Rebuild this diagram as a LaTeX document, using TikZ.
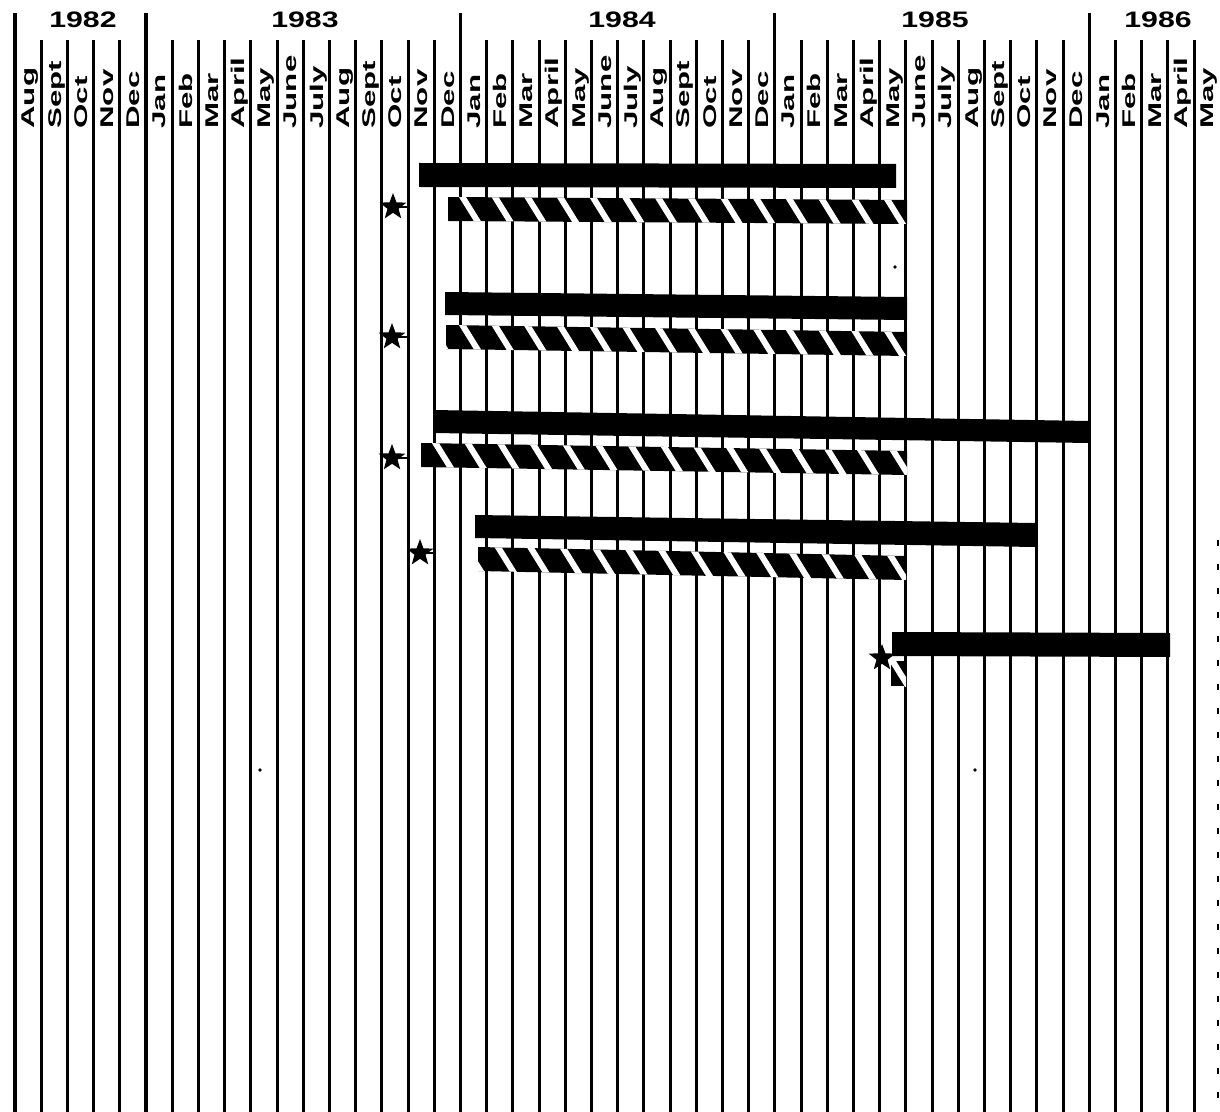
\documentclass[tikz,border=0pt]{standalone}
\usepackage{fontspec}
\setmainfont{Liberation Sans}
\usetikzlibrary{shapes.geometric}
\newcommand\MLab[1]{\scalebox{1.7}[1]{#1}}
\newcommand\YLab[1]{\scalebox{1.35}[1]{#1}}
\newcommand\HatchBar[8]{%
  \fill[solidbar] (#1,#3) -- (#2,#4) -- (#2,#4+#5) -- (#1,#3+#5) -- cycle;
  \begin{scope}
    \clip (#1,#3) -- (#2,#4) -- (#2,#4+#5) -- (#1,#3+#5) -- cycle;
    \foreach \k in {#7,...,#8}{
      \pgfmathsetmacro\xt{#6+32.7*\k+3.5}
      \pgfmathsetmacro\yt{#3+(#4-#3)*(\xt-#1)/(#2-#1)}
      \draw[stripe] (\xt-6.2,\yt-10) -- ++(31,50);
    }
  \end{scope}}
\begin{document}
\begin{tikzpicture}[x=0.5pt,y=-0.5pt,
  monthline/.style={line width=1.5pt},
  yearline/.style={line width=1.6pt},
  solidbar/.style={fill=black},
  stripe/.style={draw=white, line width=3pt},
  monthlabel/.style={rotate=90, anchor=base west, inner sep=0pt,
    font=\fontsize{9.2}{10}\selectfont\bfseries},
  yearlabel/.style={anchor=base, inner sep=0pt,
    font=\fontsize{11.2}{12}\selectfont\bfseries},
  starmark/.style={star, star points=5, star point ratio=2.4, fill=black,
    draw=none, inner sep=0pt, minimum size=14pt},
  stub/.style={line width=1.3pt},
  speck/.style={fill=black}]
\useasboundingbox (0,0) rectangle (1220,1112);
\fill[white] (0,0) rectangle (1220,1112);

% month grid lines
\foreach \i in {0,...,45}{
  \pgfmathsetmacro\xx{15+26.2*\i}
  \draw[monthline] (\xx,40) -- (\xx,1112);
}
% year divider lines
\foreach \i in {0,5,17,29,41}{
  \pgfmathsetmacro\xx{15+26.2*\i}
  \draw[yearline] (\xx,13) -- (\xx,1112);
}
\draw[line width=0.7pt, dash pattern=on 3pt off 9pt] (1218,540) -- (1218,1112);

% year labels
\node[yearlabel] (y1982) at (83,28) {\YLab{1982}};
\node[yearlabel] (y1983) at (305,28) {\YLab{1983}};
\node[yearlabel] (y1984) at (622,28) {\YLab{1984}};
\node[yearlabel] (y1985) at (935,28) {\YLab{1985}};
\node[yearlabel] (y1986) at (1158,28) {\YLab{1986}};

% month labels
\foreach \m [count=\i from 0] in {Aug,Sept,Oct,Nov,Dec,
  Jan,Feb,Mar,April,May,June,July,Aug,Sept,Oct,Nov,Dec,
  Jan,Feb,Mar,April,May,June,July,Aug,Sept,Oct,Nov,Dec,
  Jan,Feb,Mar,April,May,June,July,Aug,Sept,Oct,Nov,Dec,
  Jan,Feb,Mar,April,May}{
  \pgfmathsetmacro\xx{15+26.2*(\i+0.5)+6.7}
  \node[monthlabel] (m\i) at (\xx,129) {\MLab{\m}};
}

% bars
\fill[solidbar] (419,163) -- (896,164) -- (896,188) -- (419,187) -- cycle;
\HatchBar{448}{907}{197}{200}{24}{459}{-1}{13}
\fill[solidbar] (445,292) -- (907,297) -- (907,320) -- (445,315) -- cycle;
\HatchBar{446}{907}{325}{332}{24}{459}{-1}{13}
\fill[solidbar] (433,410) -- (1089,421) -- (1089,443) -- (433,433) -- cycle;
\HatchBar{421}{907}{443}{451}{24}{432}{-1}{14}
\fill[solidbar] (475,515) -- (1035,523) -- (1035,547) -- (475,538) -- cycle;
\HatchBar{478}{906}{547}{556}{24}{462}{0}{13}
\fill[solidbar] (892,632) -- (1170,633) -- (1170,657) -- (892,656) -- cycle;
\HatchBar{891}{906}{661}{661}{25}{889}{0}{0}

% stars
\node[starmark] (s1) at (393,207) {};
\node[starmark] (s2) at (392,337) {};
\node[starmark] (s3) at (392,458) {};
\node[starmark] (s4) at (420,553) {};
\node[starmark] (s5) at (882,658) {};
\draw[stub] (s1.center) -- ++(15,0);
\draw[stub] (s2.center) -- ++(15,0);
\draw[stub] (s3.center) -- ++(15,0);
\draw[stub] (s4.center) -- ++(14,0);

% specks
\fill[speck] (895,267) circle (1.8);
\fill[speck] (260,770) circle (1.8);
\fill[speck] (975,770) circle (1.8);
\end{tikzpicture}
\end{document}
